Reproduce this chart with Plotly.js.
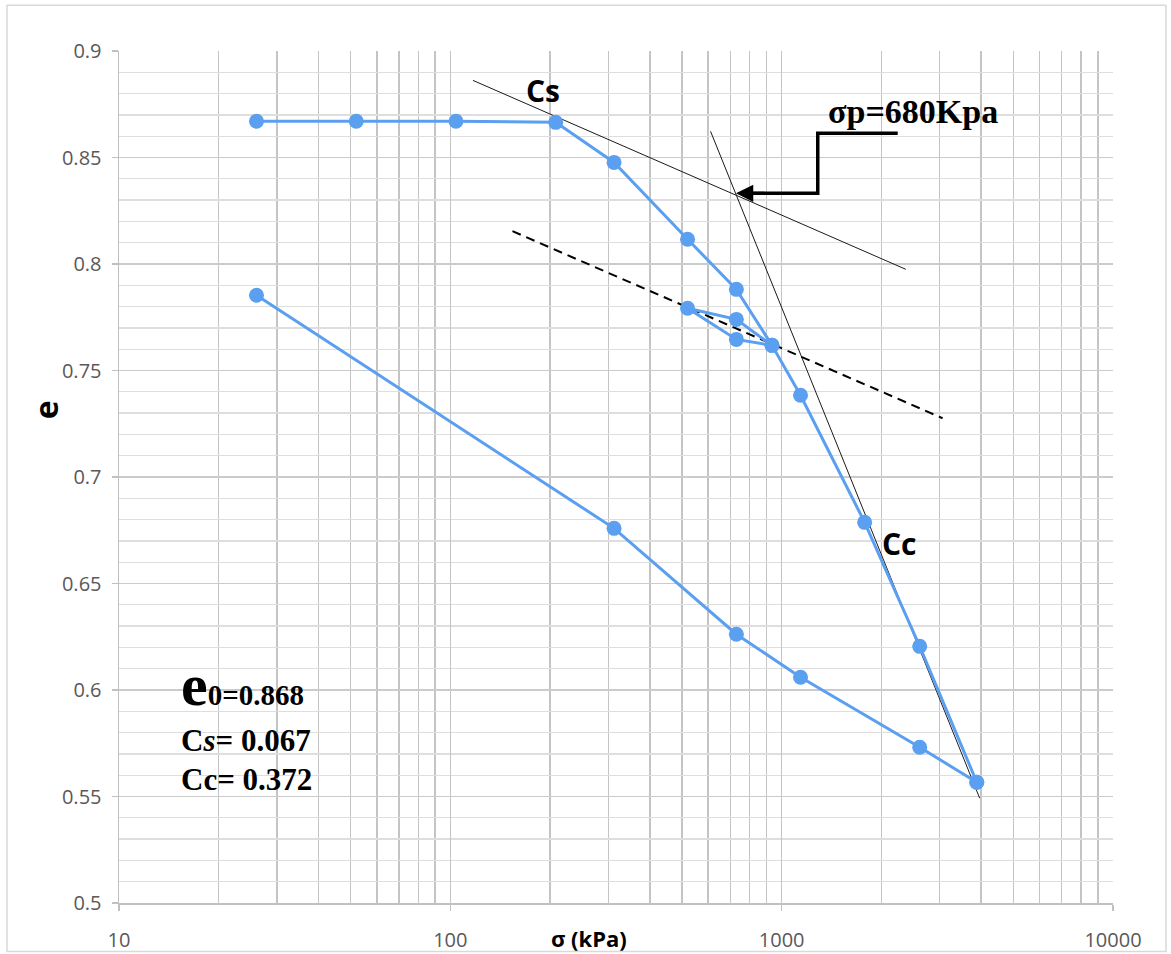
<!DOCTYPE html>
<html>
<head>
<meta charset="utf-8">
<script src="https://cdn.plot.ly/plotly-3.0.1.min.js"></script>
<style>
  html, body { margin: 0; padding: 0; background: #ffffff; }
  #chart { width: 1171px; height: 954px; }
</style>
</head>
<body>
<div id="chart"></div>
<script>
// ---- Data ----
// Loading branch with unload/reload loop (σ in kPa, void ratio e)
const loadSigma = [26, 52, 104, 208, 312, 520, 730, 935, 730, 520, 730, 935, 1140, 1780, 2610, 3880];
const loadE     = [0.867, 0.867, 0.867, 0.8665, 0.8477, 0.8116, 0.7881, 0.7618, 0.774, 0.7792, 0.7646, 0.7618, 0.7384, 0.6787, 0.6205, 0.5567];
// Final unloading branch
const unloadSigma = [3880, 2610, 1140, 730, 312, 26];
const unloadE     = [0.5567, 0.5731, 0.606, 0.6262, 0.6759, 0.7853];

// Construction lines (end points in σ, e)
const csLineSigma = [117, 2370];
const csLineE     = [0.8862, 0.7975];
const ccLineSigma = [610, 3960];
const ccLineE     = [0.8623, 0.5492];
const dashLineSigma = [154, 3060];
const dashLineE     = [0.8154, 0.7276];

// Preconsolidation pointer (σ, e)
const pointerSigma = [2240, 1285, 1285, 760];
const pointerE     = [0.8614, 0.8614, 0.8332, 0.8332];
const pointerTip   = [728, 0.8332];

// Axis ticks
const xMajorTicks = [10, 100, 1000, 10000];
const xMajorText  = ['10', '100', '1000', '10000'];
const xMinorTicks = [20, 30, 40, 50, 60, 70, 80, 90, 200, 300, 400, 500, 600, 700, 800, 900,
                     2000, 3000, 4000, 5000, 6000, 7000, 8000, 9000];

// Summary text
const e0Value = '0.868';
const csValue = '0.067';
const ccValue = '0.372';
const sigmaP  = '680';

const blue = '#5b9ff0';

const traces = [
  { x: csLineSigma, y: csLineE, mode: 'lines', line: { color: '#1a1a1a', width: 1 }, hoverinfo: 'skip', showlegend: false },
  { x: ccLineSigma, y: ccLineE, mode: 'lines', line: { color: '#1a1a1a', width: 1 }, hoverinfo: 'skip', showlegend: false },
  { x: dashLineSigma, y: dashLineE, mode: 'lines', line: { color: '#000000', width: 2, dash: '9px,6px' }, hoverinfo: 'skip', showlegend: false },
  { x: loadSigma, y: loadE, mode: 'lines+markers', name: 'loading',
    line: { color: blue, width: 3 }, marker: { color: blue, size: 15 }, showlegend: false },
  { x: unloadSigma, y: unloadE, mode: 'lines+markers', name: 'unloading',
    line: { color: blue, width: 3 }, marker: { color: blue, size: 15 }, showlegend: false },
  { x: pointerSigma, y: pointerE, mode: 'lines', line: { color: '#000000', width: 3.5 }, hoverinfo: 'skip', showlegend: false }
];

const tickFont = { family: 'Open Sans, sans-serif', size: 20, color: '#595959' };
const serif = 'Liberation Serif, Times New Roman, serif';
const sans = 'Open Sans, sans-serif';

const layout = {
  width: 1171, height: 954,
  margin: { l: 119, r: 58, t: 51, b: 51 },
  paper_bgcolor: '#ffffff', plot_bgcolor: '#ffffff',
  showlegend: false,
  xaxis: {
    type: 'log', range: [1, 4],
    tickmode: 'array', tickvals: xMajorTicks, ticktext: xMajorText,
    tickfont: tickFont, ticks: 'outside', ticklen: 6, tickcolor: '#c0c0c0', tickwidth: 1.5,
    ticklabelstandoff: 12,
    showgrid: true, gridcolor: '#c4c4c4', gridwidth: 1.4,
    minor: { tickmode: 'array', tickvals: xMinorTicks, showgrid: true, gridcolor: '#c4c4c4', gridwidth: 1.4, ticks: '' },
    showline: true, linecolor: '#c0c0c0', linewidth: 1.5,
    zeroline: false, fixedrange: true
  },
  yaxis: {
    range: [0.5, 0.9], tick0: 0.5, dtick: 0.05,
    tickfont: tickFont, ticks: 'outside', ticklen: 6, tickcolor: '#c0c0c0', tickwidth: 1.5,
    ticklabelstandoff: 6,
    showgrid: true, gridcolor: '#cbcbcb', gridwidth: 1.4,
    minor: { dtick: 0.01, showgrid: true, gridcolor: '#dedede', gridwidth: 1.3, ticks: '' },
    showline: true, linecolor: '#c0c0c0', linewidth: 1.5,
    zeroline: false, fixedrange: true
  },
  shapes: [
    { type: 'rect', xref: 'paper', yref: 'paper', x0: -0.1127, x1: 1.0533, y0: -0.0569, y1: 1.0536,
      line: { color: '#d9d9d9', width: 1.5 }, fillcolor: 'rgba(0,0,0,0)', layer: 'below' }
  ],
  annotations: [
    { xref: 'paper', yref: 'paper', x: 0.4733, y: -0.0405, text: '<b>σ (kPa)</b>', showarrow: false,
      font: { family: sans, size: 22, color: '#000000' }, xanchor: 'center', yanchor: 'middle' },
    { xref: 'paper', yref: 'paper', x: -0.0744, y: 0.5784, text: '<b>e</b>', showarrow: false, textangle: -90,
      font: { family: sans, size: 32, color: '#000000' }, xanchor: 'center', yanchor: 'middle' },
    { xref: 'paper', yref: 'paper', x: 0.4266, y: 0.9539, text: '<b>Cs</b>', showarrow: false,
      font: { family: sans, size: 30, color: '#000000' }, xanchor: 'center', yanchor: 'middle' },
    { xref: 'paper', yref: 'paper', x: 0.7857, y: 0.4224, text: '<b>Cc</b>', showarrow: false,
      font: { family: sans, size: 30, color: '#000000' }, xanchor: 'center', yanchor: 'middle' },
    { xref: 'paper', yref: 'paper', x: 0.7988, y: 0.9287, text: '<b>σp=' + sigmaP + 'Kpa</b>', showarrow: false,
      font: { family: serif, size: 34, color: '#000000' }, xanchor: 'center', yanchor: 'middle' },
    { xref: 'x', yref: 'y', x: Math.log10(pointerTip[0]), y: pointerTip[1], text: '', showarrow: true,
      ax: 30, ay: 0, arrowhead: 2, arrowsize: 1.15, arrowwidth: 3, arrowcolor: '#000000', standoff: 0 },
    { xref: 'paper', yref: 'paper', x: 0.0604, y: 0.2556, xanchor: 'left', yanchor: 'middle', showarrow: false,
      text: '<b><span style="font-size:60px">e</span>0=' + e0Value + '</b>',
      font: { family: serif, size: 29, color: '#000000' } },
    { xref: 'paper', yref: 'paper', x: 0.0604, y: 0.1911, xanchor: 'left', yanchor: 'middle', showarrow: false,
      text: '<b>C<i>s</i>= ' + csValue + '</b>',
      font: { family: serif, size: 31, color: '#000000' } },
    { xref: 'paper', yref: 'paper', x: 0.0604, y: 0.1447, xanchor: 'left', yanchor: 'middle', showarrow: false,
      text: '<b>Cc= ' + ccValue + '</b>',
      font: { family: serif, size: 31, color: '#000000' } }
  ]
};

Plotly.newPlot('chart', traces, layout, { displayModeBar: false, staticPlot: true });
</script>
</body>
</html>
